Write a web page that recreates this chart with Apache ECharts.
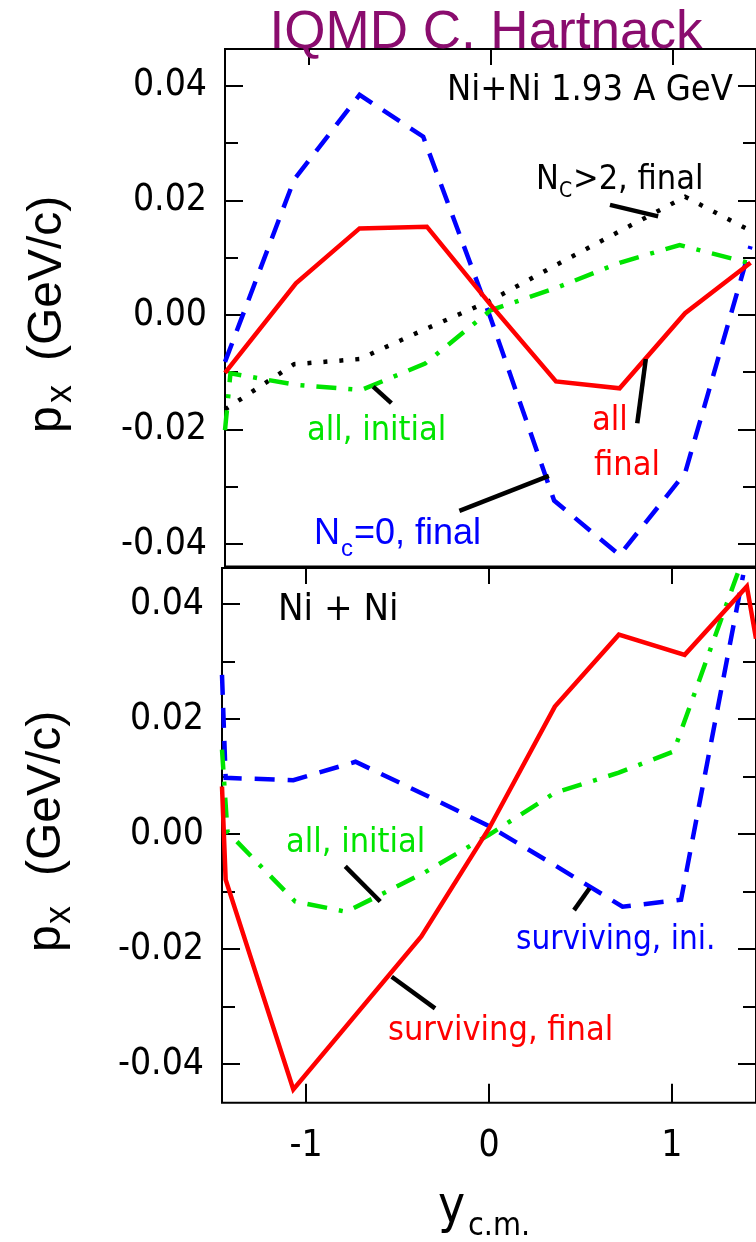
<!DOCTYPE html>
<html><head><meta charset="utf-8">
<script src="https://cdn.jsdelivr.net/npm/echarts@6/dist/echarts.min.js"></script>
<style>html,body{margin:0;padding:0;background:#fff}#c{width:756px;height:1242px}</style>
</head><body><div id="c"></div>
<script>
// ---------- axes ----------
const xMin = -1.46, xMax = 1.46;
const xTicks = [-1, 0, 1];
const yMajor = [-0.04, -0.02, 0, 0.02, 0.04];
const yMinor = [-0.03, -0.01, 0.01, 0.03];
const topYMin = -0.0439, topYMax = 0.0464;
const botYMin = -0.0467, botYMax = 0.0463;

// ---------- top panel: Ni+Ni 1.93 A GeV ----------
const topRedX   = [-1.46, -1.07, -0.72, -0.35, 0, 0.36, 0.71, 1.07, 1.43];
const topRedY   = [-0.0101, 0.0055, 0.0151, 0.0154, 0.0018, -0.0116, -0.0128, 0.0003, 0.0091];
const topBlueX  = [-1.46, -1.08, -0.72, -0.37, 0, 0.35, 0.71, 1.07, 1.43];
const topBlueY  = [-0.0082, 0.0236, 0.0384, 0.0311, -0.0005, -0.0324, -0.0419, -0.0276, 0.0120];
const topBlackX = [-1.46, -1.08, -0.72, -0.36, 0, 0.36, 0.71, 1.07, 1.43];
const topBlackY = [-0.0165, -0.0086, -0.0077, -0.0025, 0.0025, 0.0087, 0.0146, 0.0206, 0.0147];
const topGreenX = [-1.46, -1.43, -1.07, -0.71, -0.36, 0, 0.36, 0.71, 1.04, 1.43];
const topGreenY = [-0.0201, -0.0102, -0.0122, -0.0131, -0.0085, 0.0008, 0.0047, 0.0091, 0.0122, 0.0090];

// ---------- bottom panel: Ni + Ni ----------
const botRedX   = [-1.46, -1.44, -1.07, -0.37, 0, 0.36, 0.71, 1.07, 1.41, 1.46];
const botRedY   = [0.0083, -0.0079, -0.0444, -0.0178, 0.0010, 0.0222, 0.0347, 0.0312, 0.0431, 0.0340];
const botBlueX  = [-1.46, -1.44, -1.07, -0.73, -0.36, 0, 0.36, 0.73, 1.05, 1.39];
const botBlueY  = [0.0277, 0.0098, 0.0094, 0.0126, 0.0070, 0.0014, -0.0054, -0.0126, -0.0114, 0.0451];
const botGreenX = [-1.46, -1.43, -1.06, -0.78, -0.36, 0, 0.36, 0.71, 1.01, 1.36];
const botGreenY = [0.0147, 0.0004, -0.0117, -0.0135, -0.0068, -0.0001, 0.0072, 0.0107, 0.0144, 0.0454];

// ---------- label pointers (data coordinates) ----------
const topPointers = [
  [[0.657, 0.0192], [0.922, 0.0172]],     // N_C>2, final
  [[-0.645, -0.0125], [-0.545, -0.0154]], // all, initial
  [[0.854, -0.0077], [0.807, -0.0189]],   // all final
  [[-0.171, -0.0342], [0.321, -0.0281]]   // N_c=0, final
];
const botPointers = [
  [[-0.786, -0.0056], [-0.595, -0.0117]], // all, initial
  [[0.550, -0.0094], [0.465, -0.0132]],   // surviving, ini.
  [[-0.532, -0.0248], [-0.295, -0.0303]]  // surviving, final
];

const RED = '#ff0000', BLUE = '#0000ff', GREEN = '#00e400', BLACK = '#000000';
const HER = "'DejaVu Sans Condensed','DejaVu Sans',sans-serif";
const HEL = "'Liberation Sans',Arial,sans-serif";

const zip = (xs, ys) => xs.map((x, i) => [x, ys[i]]);
const noLine = { show: false, onZero: false };

function yAxes(grid, min, max) {
  const base = {
    type: 'value', gridIndex: grid, min: min, max: max,
    splitLine: { show: false }, axisLine: noLine
  };
  const tick = (vals, len) => ({ show: true, inside: true, length: len, customValues: vals, lineStyle: { color: '#000', width: 2 } });
  return [
    Object.assign({}, base, { position: 'left', offset: 0, axisTick: tick(yMajor, 18),
      axisLabel: { show: true, customValues: yMajor, margin: 18, fontSize: 37, fontFamily: HER, color: '#000',
        formatter: v => (Math.abs(v) < 1e-9 ? '0.00' : v.toFixed(2)) } }),
    Object.assign({}, base, { position: 'left', offset: 0, axisTick: tick(yMinor, 13), axisLabel: { show: false } }),
    Object.assign({}, base, { position: 'right', offset: 0, axisTick: tick(yMajor, 18), axisLabel: { show: false } }),
    Object.assign({}, base, { position: 'right', offset: 0, axisTick: tick(yMinor, 13), axisLabel: { show: false } })
  ];
}

const xTick = len => ({ show: true, inside: true, length: len, customValues: xTicks, lineStyle: { color: '#000', width: 2 } });
const xAxis = [
  { type: 'value', gridIndex: 0, min: xMin, max: xMax, position: 'top',
    splitLine: { show: false }, axisLine: noLine, axisTick: xTick(16), axisLabel: { show: false } },
  { type: 'value', gridIndex: 1, min: xMin, max: xMax, position: 'bottom',
    splitLine: { show: false }, axisLine: noLine, axisTick: xTick(19),
    axisLabel: { show: true, customValues: xTicks, margin: 25, fontSize: 37, fontFamily: HER, color: '#000',
      formatter: v => String(Math.round(v)) } },
  { type: 'value', gridIndex: 1, min: xMin, max: xMax, position: 'top',
    splitLine: { show: false }, axisLine: noLine, axisTick: xTick(16), axisLabel: { show: false } }
];

const yAxis = yAxes(0, topYMin, topYMax).concat(yAxes(1, botYMin, botYMax));

function lineSeries(xi, yi, xs, ys, color, type, z) {
  return {
    type: 'line', xAxisIndex: xi, yAxisIndex: yi, data: zip(xs, ys),
    symbol: 'none', showSymbol: false, silent: true, z: z,
    lineStyle: { color: color, width: 4.5, type: type, cap: 'butt', join: 'miter' }
  };
}
function pointerSeries(xi, yi, segs) {
  return {
    type: 'lines', coordinateSystem: 'cartesian2d', xAxisIndex: xi, yAxisIndex: yi, silent: true, z: 5,
    lineStyle: { color: '#000', width: 4.5, opacity: 1, curveness: 0 },
    data: segs.map(s => ({ coords: s }))
  };
}

const DASH = [20, 13], DASHDOT = [20, 12, 4, 12], DOT = [4, 12];

const series = [
  lineSeries(0, 0, topBlueX, topBlueY, BLUE, DASH, 2),
  lineSeries(0, 0, topBlackX, topBlackY, BLACK, DOT, 3),
  lineSeries(0, 0, topGreenX, topGreenY, GREEN, DASHDOT, 3),
  lineSeries(0, 0, topRedX, topRedY, RED, 'solid', 4),
  pointerSeries(0, 0, topPointers),
  lineSeries(1, 4, botBlueX, botBlueY, BLUE, DASH, 2),
  lineSeries(1, 4, botGreenX, botGreenY, GREEN, DASHDOT, 3),
  lineSeries(1, 4, botRedX, botRedY, RED, 'solid', 4),
  pointerSeries(1, 4, botPointers)
];

function txt(x, y, text, size, family, color, align, rot) {
  return {
    type: 'text', x: x, y: y, rotation: rot || 0, z: 100, silent: true,
    style: { text: text, fontSize: size, fontFamily: family, fill: color,
      align: align || 'left', verticalAlign: 'middle',
      textAlign: align || 'left', textVerticalAlign: 'middle' }
  };
}
const R = Math.PI / 2;
const graphic = [
  txt(486, 33, 'IQMD C. Hartnack', 53, HEL, '#8a0c6e', 'center'),
  // y-axis titles (rotated)
  txt(48, 433, 'p', 48, HEL, '#000', 'left', R),
  txt(61, 403, 'x', 36, HEL, '#000', 'left', R),
  txt(48, 361, '(GeV/c)', 48, HEL, '#000', 'left', R),
  txt(47, 952, 'p', 48, HEL, '#000', 'left', R),
  txt(60, 924, 'x', 36, HEL, '#000', 'left', R),
  txt(47, 876, '(GeV/c)', 48, HEL, '#000', 'left', R),
  // x-axis title
  txt(438, 1209, 'y', 51, HER, '#000', 'left'),
  txt(468, 1227, 'c.m.', 32, HER, '#000', 'left'),
  // top panel annotations
  txt(590, 91, 'Ni+Ni 1.93 A GeV', 36, HER, '#000', 'center'),
  txt(536, 180, 'N', 34, HER, '#000', 'left'),
  txt(559, 192, 'C', 21, HER, '#000', 'left'),
  txt(573, 180, '>2, final', 34, HER, '#000', 'left'),
  txt(307, 431.5, 'all, initial', 34, HER, GREEN, 'left'),
  txt(592, 421, 'all', 34, HER, RED, 'left'),
  txt(594, 466.5, 'final', 34, HER, RED, 'left'),
  txt(314, 534, 'N', 36, HEL, BLUE, 'left'),
  txt(341, 549, 'c', 24, HEL, BLUE, 'left'),
  txt(354, 534, '=0, final', 36, HEL, BLUE, 'left'),
  // bottom panel annotations
  txt(278, 610.5, 'Ni + Ni', 38, HER, '#000', 'left'),
  txt(286, 843, 'all, initial', 34, HER, GREEN, 'left'),
  txt(516, 940, 'surviving, ini.', 33, HER, BLUE, 'left'),
  txt(388, 1031.5, 'surviving, final', 34, HER, RED, 'left')
];

const chart = echarts.init(document.getElementById('c'), null, { renderer: 'canvas' });
chart.setOption({
  animation: false,
  backgroundColor: '#ffffff',
  grid: [
    { left: 225, top: 49, width: 534.4, height: 517.5, show: true, borderColor: '#000', borderWidth: 2, backgroundColor: 'transparent', containLabel: false },
    { left: 222, top: 568, width: 534.4, height: 534.7, show: true, borderColor: '#000', borderWidth: 2, backgroundColor: 'transparent', containLabel: false }
  ],
  xAxis: xAxis,
  yAxis: yAxis,
  series: series,
  graphic: graphic
});
</script></body></html>
